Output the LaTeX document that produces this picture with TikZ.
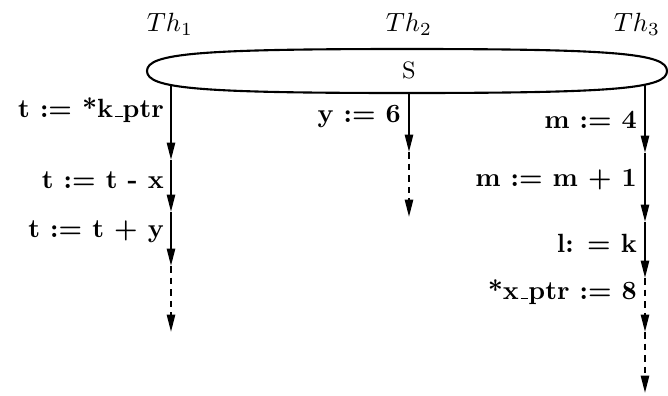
\documentclass[tikz,border=0pt]{standalone}
\usepackage{amsmath,amssymb}
\usepackage{xcolor}
\usepackage{tikz}
\usetikzlibrary{arrows.meta}
\newcommand{\undsc}{\leavevmode\kern.06em\vbox{\hrule height.5pt width.3em}}

\begin{document}
\begin{tikzpicture}[x=0.01333cm,y=-0.01333cm,
    flow/.style={line width=0.8pt,-{Triangle[length=6.6pt,width=3.1pt]}},
    flowdash/.style={flow,dash pattern=on 2.5pt off 1.9pt},
    stmt/.style={anchor=east,inner sep=1pt,font=\bfseries}]
  \useasboundingbox (0,0) rectangle (668,395);
  \draw[line width=0.8pt] (147,71) .. controls (147,88.6) and (199,93) .. (407,93)
     .. controls (615,93) and (667,88.6) .. (667,71)
     .. controls (667,53.4) and (615,49) .. (407,49)
     .. controls (199,49) and (147,53.4) .. (147,71) -- cycle;
  \node[font=\small] (S) at (409,70) {S};
  \foreach \x/\n in {170/1, 409/2, 637/3}
     \node (th\n) at (\x,24) {$Th_{\n}$};
  \foreach \y/\n in {85/0, 160/1, 212/2, 266/3, 332/4} \coordinate (a\n) at (171,\y);
  \foreach \y/\n in {93/0, 152/1, 217/2} \coordinate (b\n) at (409,\y);
  \foreach \y/\n in {85/0, 153/1, 222/2, 278/3, 332/4, 393/5} \coordinate (c\n) at (645,\y);
  \foreach \i/\j in {a0/a1, a1/a2, a2/a3, b0/b1, c0/c1, c1/c2, c2/c3}
     \draw[flow] (\i) -- (\j);
  \foreach \i/\j in {a3/a4, b1/b2, c3/c4, c4/c5}
     \draw[flowdash] (\i) -- (\j);
  \node[stmt] (t1) at (167,110) {t := *k\undsc ptr};
  \node[stmt] (t2) at (167,180) {t := t - x};
  \node[stmt] (t3) at (167,232) {t := t + y};
  \node[stmt] (y1) at (404,116) {y := 6};
  \node[stmt] (m1) at (640,120) {m := 4};
  \node[stmt] (m2) at (640,180) {m := m + 1};
  \node[stmt] (m3) at (640,243) {l: = k};
  \node[stmt] (m4) at (640,292) {*x\undsc ptr := 8};
\end{tikzpicture}
\end{document}
